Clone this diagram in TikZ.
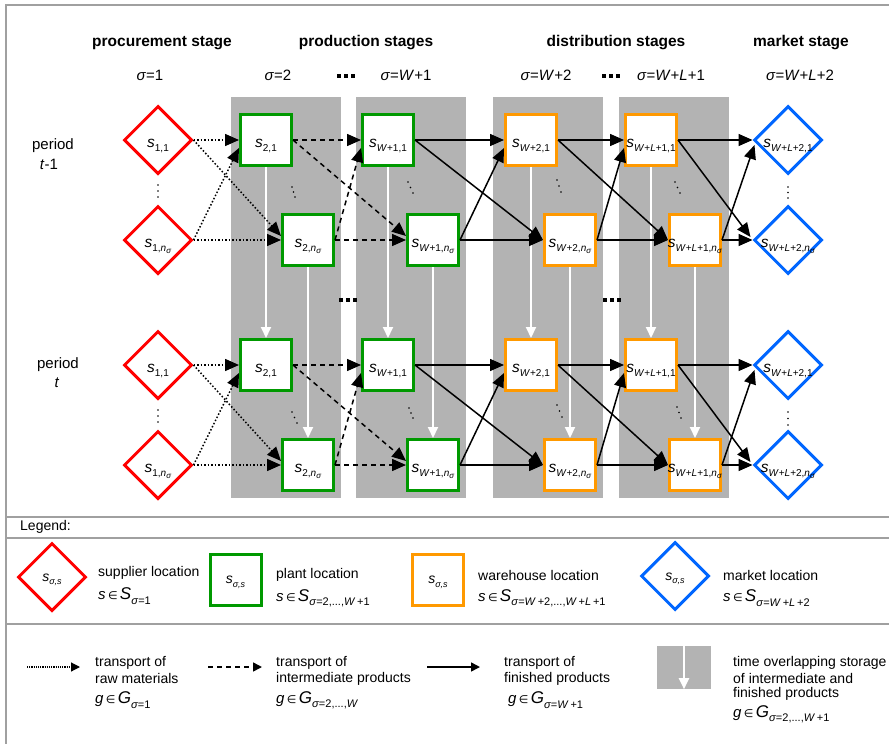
\documentclass[tikz,border=0pt]{standalone}
\usepackage{fontspec}
\setmainfont{Liberation Sans}
\newfontfamily\dejavu{DejaVu Sans}
\usetikzlibrary{arrows.meta,shapes.geometric,calc}
\definecolor{cred}{RGB}{255,0,0}
\definecolor{cgreen}{RGB}{0,153,0}
\definecolor{corange}{RGB}{255,153,0}
\definecolor{cblue}{RGB}{0,102,255}
\definecolor{cgray}{RGB}{179,179,179}
\definecolor{cframe}{RGB}{160,160,160}
\newcommand{\ctr}[1]{\makebox[0pt][c]{\smash{\raisebox{-7.5pt}{#1}}}}
\newcommand{\ctrs}[1]{\makebox[0pt][c]{\smash{\raisebox{-4pt}{#1}}}}
\newcommand{\Ls}[1]{{\fontsize{15.5}{15.5}\selectfont\textit{s}}\raisebox{-0.5ex}{\fontsize{10}{10}\selectfont #1}}
\newcommand{\Ns}{\textit{n}\raisebox{-0.35ex}{\fontsize{8}{8}\selectfont\textit{σ}}}
\newcommand{\Lsm}{{\fontsize{14}{14}\selectfont\textit{s}}\raisebox{-0.45ex}{\fontsize{9}{9}\selectfont\textit{σ,s}}}
\newcommand{\Wi}{\textit{W}}
\newcommand{\Li}{\textit{L}}
\newcommand{\Inset}[3]{{\fontsize{15}{15}\selectfont\textit{#1}}\,{\dejavu\fontsize{11}{11}\selectfont ∈}\,{\fontsize{17}{17}\selectfont\textit{#2}}\raisebox{-0.6ex}{\fontsize{11}{11}\selectfont #3}}
\begin{document}
\begin{tikzpicture}[x=1pt,y=-1pt,
  every node/.style={font=\fontsize{15}{17}\selectfont, inner sep=0pt},
  hdr/.style={font=\fontsize{15.5}{17}\selectfont\bfseries},
  legt/.style={anchor=west, font=\fontsize{14}{16}\selectfont},
  supp/.style={diamond, aspect=1, draw=cred, line width=3pt, minimum width=68pt, minimum height=68pt, fill=white},
  mkt/.style={diamond, aspect=1, draw=cblue, line width=3pt, minimum width=68pt, minimum height=68pt, fill=white},
  plant/.style={rectangle, draw=cgreen, line width=3pt, minimum size=51pt, fill=white},
  whs/.style={rectangle, draw=corange, line width=3pt, minimum size=51pt, fill=white},
  rawarr/.style={line width=1.5pt, dotted, -{Triangle[length=14pt,width=12pt]}},
  midarr/.style={line width=1.5pt, dash pattern=on 5pt off 4pt, -{Triangle[length=14pt,width=12pt]}},
  finarr/.style={line width=1.5pt, -{Triangle[length=14pt,width=12pt]}},
  storearr/.style={draw=white, line width=2pt, -{Triangle[length=11pt,width=10pt,fill=white]}},
  sepline/.style={draw=cframe, line width=1.5pt}
]
\useasboundingbox (0,0) rectangle (889,744);
\fill[white] (0,0) rectangle (889,744);
% frame
\draw[sepline] (6,5) rectangle (900,760);
\draw[sepline] (6,517) -- (900,517);
\draw[sepline] (6,538) -- (900,538);
\draw[sepline] (6,624) -- (900,624);

% gray columns
\fill[cgray] (231,97) rectangle (341,498);
\fill[cgray] (356,97) rectangle (466,498);
\fill[cgray] (493,97) rectangle (603,498);
\fill[cgray] (619,97) rectangle (729,498);

% headers
\node[hdr] (h1) at (162,43) {procurement stage};
\node[hdr] (h2) at (366,43) {production stages};
\node[hdr] (h3) at (616,43) {distribution stages};
\node[hdr] (h4) at (801,43) {market stage};
\node (g1) at (150,75) {\textit{σ}=1};
\node (g2) at (278,75) {\textit{σ}=2};
\node (g3) at (406,75) {\textit{σ}=\Wi+1};
\node (g4) at (546,75) {\textit{σ}=\Wi+2};
\node (g5) at (671,75) {\textit{σ}=\Wi+\Li+1};
\node (g6) at (800,75) {\textit{σ}=\Wi+\Li+2};
\foreach \cx/\cy in {346/76, 611/76, 348/300, 612/300}
  \foreach \d in {-7,0,7} \fill (\cx+\d-1.8,\cy-1.8) rectangle (\cx+\d+1.8,\cy+1.8);

% period labels
\node (pl1) at (53,146) {period};
\node (pl2) at (49,164) {\textit{t}-1};
\node (pl3) at (58,365) {period};
\node (pl4) at (57,383) {\textit{t}};

% nodes
\foreach \p/\ya/\yb in {a/140/240,b/365/465} {
  \node[supp] (s\p1) at (158,\ya) {\ctr{\Ls{1,1}}};
  \node[supp] (s\p2) at (158,\yb) {\ctr{\Ls{1,\Ns}}};
  \node[plant] (p\p1) at (266,\ya) {\ctr{\Ls{2,1}}};
  \node[plant] (p\p2) at (308,\yb) {\ctr{\Ls{2,\Ns}}};
  \node[plant] (q\p1) at (388,\ya) {\ctr{\Ls{\Wi+1,1}}};
  \node[plant] (q\p2) at (433,\yb) {\ctr{\Ls{\Wi+1,\Ns}}};
  \node[whs] (r\p1) at (531,\ya) {\ctr{\Ls{\Wi+2,1}}};
  \node[whs] (r\p2) at (570,\yb) {\ctr{\Ls{\Wi+2,\Ns}}};
  \node[whs] (u\p1) at (651,\ya) {\ctr{\Ls{\Wi+\Li+1,1}}};
  \node[whs] (u\p2) at (695,\yb) {\ctr{\Ls{\Wi+\Li+1,\Ns}}};
  \node[mkt] (m\p1) at (788,\ya) {\ctr{\Ls{\Wi+\Li+2,1}}};
  \node[mkt] (m\p2) at (788,\yb) {\ctr{\Ls{\Wi+\Li+2,\Ns}}};
}

% storage (white) arrows
\foreach \c in {p,q,r,u} {
  \draw[storearr] (\c a1.south) -- (\c b1.north);
  \draw[storearr] (\c a2.south) -- (\c b2.north);
}

% vertical ellipses
\foreach \xa/\ya/\xb/\yb in {158/185/158/197, 292/187/295/197, 408/182/413/193, 557/180/561/192, 675/182/680/193, 788/187/788/198,
  158/410/158/422, 292/412/297/423, 409/408/413/418, 557/405/562/417, 677/407/681/418, 788/412/788/425} {
  \fill (\xa,\ya) circle (0.9pt);
  \fill ({(\xa+\xb)/2},{(\ya+\yb)/2}) circle (0.9pt);
  \fill (\xb,\yb) circle (0.9pt);
}

% connectors
\foreach \p in {a,b} {
  \draw[rawarr] (s\p1.east) -- (p\p1.west);
  \draw[rawarr] (s\p1.east) -- ($(p\p2.west)+(0,-4)$);
  \draw[rawarr] (s\p2.east) -- ($(p\p1.west)+(0,8)$);
  \draw[rawarr] (s\p2.east) -- (p\p2.west);
  \draw[midarr] (p\p1.east) -- (q\p1.west);
  \draw[midarr] (p\p1.east) -- ($(q\p2.west)+(0,-4)$);
  \draw[midarr] (p\p2.east) -- ($(q\p1.west)+(0,8)$);
  \draw[midarr] (p\p2.east) -- (q\p2.west);
  \draw[finarr] (q\p1.east) -- (r\p1.west);
  \draw[finarr] (q\p1.east) -- (r\p2.west);
  \draw[finarr] (q\p2.east) -- ($(r\p1.west)+(0,8)$);
  \draw[finarr] (q\p2.east) -- (r\p2.west);
  \draw[finarr] (r\p1.east) -- (u\p1.west);
  \draw[finarr] (r\p1.east) -- (u\p2.west);
  \draw[finarr] (r\p2.east) -- ($(u\p1.west)+(0,8)$);
  \draw[finarr] (r\p2.east) -- (u\p2.west);
  \draw[finarr] (u\p1.east) -- (m\p1.west);
  \draw[finarr] (u\p1.east) -- ($(m\p2.west)+(-2,-3)$);
  \draw[finarr] (u\p2.east) -- ($(m\p1.west)+(2,5)$);
  \draw[finarr] (u\p2.east) -- (m\p2.west);
}

% legend
\node[anchor=west, font=\fontsize{14}{16}\selectfont] (lg) at (20,527) {Legend:};
\node[supp] (l1) at (52,577) {\ctrs{\Lsm}};
\node[plant] (l2) at (235.5,579.5) {\ctrs{\Lsm}};
\node[whs] (l3) at (438,579.5) {\ctrs{\Lsm}};
\node[mkt] (l4) at (675,576) {\ctrs{\Lsm}};
\node[legt] (t1a) at (98,573) {supplier location};
\node[legt] (t1b) at (98,596) {\Inset{s}{S}{\textit{σ}=1}};
\node[legt] (t2a) at (276,575) {plant location};
\node[legt] (t2b) at (276,598) {\Inset{s}{S}{\textit{σ}=2,...,\Wi\,+1}};
\node[legt] (t3a) at (478,575) {warehouse location};
\node[legt] (t3b) at (478,598) {\Inset{s}{S}{\textit{σ}=\Wi\,+2,...,\Wi\,+\Li\,+1}};
\node[legt] (t4a) at (723,575) {market location};
\node[legt] (t4b) at (723,598) {\Inset{s}{S}{\textit{σ}=\Wi\,+\Li\,+2}};

\coordinate (a0) at (27,667); \coordinate (a1) at (80,667);
\draw[line width=1.2pt, densely dotted, -{Triangle[length=9pt,width=9pt]}] (a0) -- (a1);
\coordinate (b0) at (208,667); \coordinate (b1) at (262,667);
\draw[line width=1.5pt, dash pattern=on 5pt off 4pt, -{Triangle[length=9pt,width=9pt]}] (b0) -- (b1);
\coordinate (c0) at (427,667); \coordinate (c1) at (480,667);
\draw[line width=1.5pt, -{Triangle[length=9pt,width=9pt]}] (c0) -- (c1);
\node[fill=cgray, minimum width=54pt, minimum height=43pt] (lst) at (684,667.5) {};
\draw[storearr] (lst.north) -- (lst.south);

\node[legt] (u1a) at (95,663) {transport of};
\node[legt] (u1b) at (95,678.5) {raw materials};
\node[legt] (u1c) at (95,700) {\Inset{g}{G}{\textit{σ}=1}};
\node[legt] (u2a) at (276,663) {transport of};
\node[legt] (u2b) at (276,678.5) {intermediate products};
\node[legt] (u2c) at (276,700) {\Inset{g}{G}{\textit{σ}=2,...,\Wi}};
\node[legt] (u3a) at (504,663) {transport of};
\node[legt] (u3b) at (504,678.5) {finished products};
\node[legt] (u3c) at (508,700) {\Inset{g}{G}{\textit{σ}=\Wi\,+1}};
\node[legt] (u4a) at (733,663) {time overlapping storage};
\node[legt] (u4b) at (733,678.5) {of intermediate and};
\node[legt] (u4c) at (733,694) {finished products};
\node[legt] (u4d) at (733,714) {\Inset{g}{G}{\textit{σ}=2,...,\Wi\,+1}};
\end{tikzpicture}
\end{document}
